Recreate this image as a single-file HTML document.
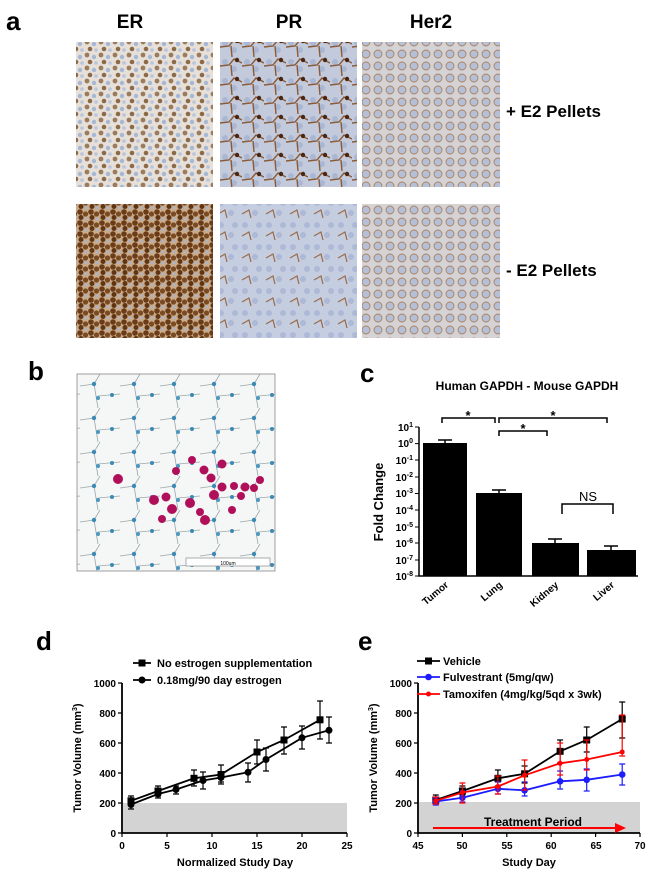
<!DOCTYPE html>
<html><head><meta charset="utf-8"><style>
html,body{margin:0;padding:0;background:#fff;}
svg{display:block;font-family:"Liberation Sans",Arial,sans-serif;}
</style></head><body>
<svg width="650" height="875" viewBox="0 0 650 875" xmlns="http://www.w3.org/2000/svg">
<defs>
<pattern id="er1" width="14" height="13" patternUnits="userSpaceOnUse">
<rect width="14" height="13" fill="#e6e0d8"/>
<circle cx="3" cy="3" r="2.4" fill="#9a7b5e"/><circle cx="10" cy="5" r="2.2" fill="#a5b8d6"/>
<circle cx="6" cy="10" r="2.3" fill="#8c6a48"/><circle cx="12" cy="11" r="1.8" fill="#b8c5dc"/>
</pattern>
<pattern id="er2" width="11" height="11" patternUnits="userSpaceOnUse">
<rect width="11" height="11" fill="#c9ab8a"/>
<circle cx="3" cy="3" r="2.8" fill="#6b3c17"/><circle cx="8.5" cy="5" r="2.6" fill="#7a4a22"/>
<circle cx="4" cy="8.5" r="2.5" fill="#5f3514"/><circle cx="9" cy="10" r="1.5" fill="#a9b4cf"/>
</pattern>
<pattern id="pr1" width="22" height="19" patternUnits="userSpaceOnUse">
<rect width="22" height="19" fill="#c3cadb"/>
<circle cx="5" cy="5" r="3" fill="#aab7d3"/><circle cx="14" cy="12" r="3" fill="#aab7d3"/>
<path d="M0 9 L9 8 L14 2 L22 6 M11 8 L12 19" stroke="#8b5a36" stroke-width="1.4" fill="none"/>
<circle cx="17" cy="3" r="2.2" fill="#4a2612"/>
</pattern>
<pattern id="pr2" width="24" height="22" patternUnits="userSpaceOnUse">
<rect width="24" height="22" fill="#c5cde0"/>
<circle cx="5" cy="5" r="3" fill="#adb9d6"/><circle cx="15" cy="15" r="3" fill="#adb9d6"/><circle cx="19" cy="5" r="3" fill="#adb9d6"/>
<path d="M2 16 L9 12 L11 20" stroke="#9a6a46" stroke-width="1.2" fill="none"/>
</pattern>
<pattern id="her" width="12" height="12" patternUnits="userSpaceOnUse">
<rect width="12" height="12" fill="#d6d3d6"/>
<circle cx="6" cy="6" r="4" fill="#b5bfd8" stroke="#a9825e" stroke-width="0.9"/>
</pattern>
<pattern id="lung" width="40" height="34" patternUnits="userSpaceOnUse">
<rect width="40" height="34" fill="#f5f6f6"/>
<path d="M0 12 L14 10 L20 0 M14 10 L18 34 M18 22 L40 20" stroke="#9aa8ae" stroke-width="0.8" fill="none"/>
<circle cx="14" cy="10" r="2.2" fill="#3c8ab4"/><circle cx="18" cy="24" r="2" fill="#4b96c0"/><circle cx="32" cy="21" r="2" fill="#3c8ab4"/>
</pattern>
</defs>

<!-- Panel a -->
<text x="6" y="30" font-size="26" font-weight="bold">a</text>
<text x="130" y="28" font-size="19" font-weight="bold" text-anchor="middle">ER</text>
<text x="289" y="28" font-size="19" font-weight="bold" text-anchor="middle">PR</text>
<text x="431" y="28" font-size="19" font-weight="bold" text-anchor="middle">Her2</text>
<rect x="76" y="42" width="137" height="145" fill="url(#er1)"/>
<rect x="220" y="42" width="137" height="145" fill="url(#pr1)"/>
<rect x="362" y="42" width="138" height="145" fill="url(#her)"/>
<rect x="76" y="204" width="137" height="134" fill="url(#er2)"/>
<rect x="220" y="204" width="137" height="134" fill="url(#pr2)"/>
<rect x="362" y="204" width="138" height="134" fill="url(#her)"/>
<text x="506" y="117" font-size="17" font-weight="bold">+ E2 Pellets</text>
<text x="506" y="276" font-size="17" font-weight="bold">- E2 Pellets</text>

<!-- Panel b -->
<text x="28" y="380" font-size="26" font-weight="bold">b</text>
<rect x="77" y="374" width="198" height="197" fill="url(#lung)" stroke="#888" stroke-width="0.8"/>
<g fill="#b0105a">
<circle cx="118" cy="479" r="5"/><circle cx="154" cy="500" r="5"/><circle cx="166" cy="497" r="4.5"/><circle cx="172" cy="509" r="5"/>
<circle cx="162" cy="519" r="4"/><circle cx="190" cy="503" r="5"/><circle cx="200" cy="512" r="4"/><circle cx="205" cy="520" r="5"/>
<circle cx="176" cy="471" r="4"/><circle cx="192" cy="460" r="4"/><circle cx="204" cy="470" r="4.5"/><circle cx="211" cy="478" r="4.5"/>
<circle cx="222" cy="464" r="4.5"/><circle cx="222" cy="487" r="4.5"/><circle cx="214" cy="495" r="5"/><circle cx="234" cy="486" r="4"/>
<circle cx="245" cy="487" r="4.5"/><circle cx="254" cy="488" r="4"/><circle cx="260" cy="480" r="4"/><circle cx="241" cy="496" r="4"/><circle cx="232" cy="510" r="4"/>
</g>
<rect x="186" y="558" width="84" height="8" fill="#fff" stroke="#777" stroke-width="0.6"/>
<text x="228" y="565" font-size="5" text-anchor="middle">100um</text>

<!-- Panel c -->
<text x="360" y="382" font-size="26" font-weight="bold">c</text>
<text x="527" y="390" font-size="12" font-weight="bold" text-anchor="middle">Human GAPDH - Mouse GAPDH</text>
<g stroke="#000" stroke-width="1.5" fill="none">
<path d="M419 427 V576 H638"/>
<path d="M442 423 V418 H495 V423"/><path d="M499 423 V418 H607 V423"/><path d="M499 436 V431 H547 V436"/>
<path d="M562 514 V504 H613 V514"/>
</g>
<g stroke="#000" stroke-width="1">
<path d="M415 427H419M415 443.6H419M415 460H419M415 477H419M415 493.5H419M415 510H419M415 527H419M415 543H419M415 560H419M415 576H419"/>
</g>
<g font-size="10" font-weight="bold" text-anchor="end">
<text x="413" y="431">10<tspan font-size="7" dy="-4">1</tspan></text>
<text x="413" y="447">10<tspan font-size="7" dy="-4">0</tspan></text>
<text x="413" y="464">10<tspan font-size="7" dy="-4">-1</tspan></text>
<text x="413" y="481">10<tspan font-size="7" dy="-4">-2</tspan></text>
<text x="413" y="497">10<tspan font-size="7" dy="-4">-3</tspan></text>
<text x="413" y="514">10<tspan font-size="7" dy="-4">-4</tspan></text>
<text x="413" y="531">10<tspan font-size="7" dy="-4">-5</tspan></text>
<text x="413" y="547">10<tspan font-size="7" dy="-4">-6</tspan></text>
<text x="413" y="564">10<tspan font-size="7" dy="-4">-7</tspan></text>
<text x="413" y="580">10<tspan font-size="7" dy="-4">-8</tspan></text>
</g>
<text transform="translate(383 502) rotate(-90)" font-size="13" font-weight="bold" text-anchor="middle">Fold Change</text>
<g fill="#000">
<rect x="423" y="443" width="44" height="133"/><rect x="476" y="493" width="46" height="83"/>
<rect x="532" y="543" width="47" height="33"/><rect x="587" y="550" width="49" height="26"/>
</g>
<g stroke="#000" stroke-width="1.5">
<path d="M445 443V440M438 440H452M499 493V490M492 490H506M555 543V539M548 539H562M611 550V546M604 546H618"/>
</g>
<text x="502" y="420" font-size="13" font-weight="bold" text-anchor="middle" transform="translate(-34 0)">*</text>
<text x="553" y="420" font-size="13" font-weight="bold" text-anchor="middle">*</text>
<text x="523" y="433" font-size="13" font-weight="bold" text-anchor="middle">*</text>
<text x="588" y="501" font-size="13" text-anchor="middle">NS</text>
<g font-size="10" font-weight="bold" text-anchor="end">
<text transform="translate(449 586) rotate(-40)">Tumor</text>
<text transform="translate(503 586) rotate(-40)">Lung</text>
<text transform="translate(559 586) rotate(-40)">Kidney</text>
<text transform="translate(615 586) rotate(-40)">Liver</text>
</g>

<!-- Panel d -->
<text x="36" y="650" font-size="26" font-weight="bold">d</text>
<rect x="123" y="803" width="224" height="30" fill="#d3d3d3"/>
<g stroke="#000" stroke-width="1.8" fill="none">
<path d="M122 683V833H347"/>
</g>
<g stroke="#000" stroke-width="1.2">
<path d="M118 683H122M118 713H122M118 743H122M118 773H122M118 803H122M118 833H122"/>
<path d="M122 833v4M167 833v4M212 833v4M257 833v4M302 833v4M347 833v4"/>
</g>
<g font-size="10" font-weight="bold" text-anchor="end">
<text x="116" y="687">1000</text><text x="116" y="717">800</text><text x="116" y="747">600</text>
<text x="116" y="777">400</text><text x="116" y="807">200</text><text x="116" y="837">0</text>
</g>
<g font-size="10" font-weight="bold" text-anchor="middle">
<text x="122" y="849">0</text><text x="167" y="849">5</text><text x="212" y="849">10</text><text x="257" y="849">15</text><text x="302" y="849">20</text><text x="347" y="849">25</text>
</g>
<text x="235" y="866" font-size="11" font-weight="bold" text-anchor="middle">Normalized Study Day</text>
<text transform="translate(81 758) rotate(-90)" font-size="11" font-weight="bold" text-anchor="middle">Tumor Volume (mm<tspan font-size="7" dy="-4">3</tspan><tspan dy="4">)</tspan></text>
<g stroke="#000" stroke-width="1.8" fill="none">
<polyline points="131,800.8 158,791 194,778.3 221,774.5 257,752 284,740 320,719.8"/>
<polyline points="131,804.5 158,794 176,789.5 203,780.5 221,777.5 248,772.3 266,759.5 302,737.8 329,730.3"/>
</g>
<g stroke="#000" stroke-width="1.2">
<path d="M131 796v9M128 796h6M128 805h6 M158 786v10M155 786h6M155 796h6 M194 770v16M191 770h6M191 786h6 M221 765v19M218 765h6M218 784h6 M257 740v24M254 740h6M254 764h6 M284 727v27M281 727h6M281 754h6 M320 701v38M317 701h6M317 739h6"/>
<path d="M131 800v9M128 800h6M128 809h6 M158 790v8M155 790h6M155 798h6 M176 786v8M173 786h6M173 794h6 M203 772v17M200 772h6M200 789h6 M221 773v9M218 773h6M218 782h6 M248 763v19M245 763h6M245 782h6 M266 748v23M263 748h6M263 771h6 M302 726v23M299 726h6M299 749h6 M329 717v26M326 717h6M326 743h6"/>
</g>
<g fill="#000">
<rect x="127.5" y="797.3" width="7" height="7"/><rect x="154.5" y="787.5" width="7" height="7"/><rect x="190.5" y="774.8" width="7" height="7"/>
<rect x="217.5" y="771" width="7" height="7"/><rect x="253.5" y="748.5" width="7" height="7"/><rect x="280.5" y="736.5" width="7" height="7"/><rect x="316.5" y="716.3" width="7" height="7"/>
<circle cx="131" cy="804.5" r="3.5"/><circle cx="158" cy="794" r="3.5"/><circle cx="176" cy="789.5" r="3.5"/><circle cx="203" cy="780.5" r="3.5"/>
<circle cx="221" cy="777.5" r="3.5"/><circle cx="248" cy="772.3" r="3.5"/><circle cx="266" cy="759.5" r="3.5"/><circle cx="302" cy="737.8" r="3.5"/><circle cx="329" cy="730.3" r="3.5"/>
</g>
<g stroke="#000" stroke-width="1.8"><path d="M133 663H151M133 680H151"/></g>
<rect x="138.5" y="659.5" width="7" height="7"/><circle cx="142" cy="680" r="3.5"/>
<text x="157" y="667" font-size="11" font-weight="bold">No estrogen supplementation</text>
<text x="157" y="684" font-size="11" font-weight="bold">0.18mg/90 day estrogen</text>

<!-- Panel e -->
<text x="358" y="650" font-size="26" font-weight="bold">e</text>
<rect x="419" y="802" width="221" height="31" fill="#d3d3d3"/>
<g stroke="#000" stroke-width="1.8" fill="none"><path d="M418 683V833H640"/></g>
<g stroke="#000" stroke-width="1.2">
<path d="M414 683H418M414 713H418M414 743H418M414 773H418M414 803H418M414 833H418"/>
<path d="M418 833v4M462.4 833v4M506.8 833v4M551.2 833v4M595.6 833v4M640 833v4"/>
</g>
<g font-size="10" font-weight="bold" text-anchor="end">
<text x="412" y="687">1000</text><text x="412" y="717">800</text><text x="412" y="747">600</text>
<text x="412" y="777">400</text><text x="412" y="807">200</text><text x="412" y="837">0</text>
</g>
<g font-size="10" font-weight="bold" text-anchor="middle">
<text x="418" y="849">45</text><text x="462" y="849">50</text><text x="507" y="849">55</text><text x="551" y="849">60</text><text x="596" y="849">65</text><text x="640" y="849">70</text>
</g>
<text x="529" y="866" font-size="11" font-weight="bold" text-anchor="middle">Study Day</text>
<text transform="translate(377 758) rotate(-90)" font-size="11" font-weight="bold" text-anchor="middle">Tumor Volume (mm<tspan font-size="7" dy="-4">3</tspan><tspan dy="4">)</tspan></text>
<text x="533" y="826" font-size="12" font-weight="bold" text-anchor="middle">Treatment Period</text>
<path d="M433 828H617" stroke="#f00" stroke-width="2"/><path d="M615 823L626 828L615 833Z" fill="#f00"/>
<!-- vehicle -->
<g stroke="#000" stroke-width="1.2">
<path d="M435.8 795v9M432.8 795h6M432.8 804h6 M462.4 786v9M459.4 786h6M459.4 795h6 M497.9 770v16M494.9 770h6M494.9 786h6 M524.6 766v17M521.6 766h6M521.6 783h6 M560.1 740v23M557.1 740h6M557.1 763h6 M586.7 727v25M583.7 727h6M583.7 752h6 M622.2 702v36M619.2 702h6M619.2 738h6"/>
</g>
<polyline points="435.8,800 462.4,791 497.9,778.3 524.6,773.8 560.1,751.3 586.7,740 622.2,719" stroke="#000" stroke-width="1.8" fill="none"/>
<g fill="#000"><rect x="432.3" y="796.5" width="7" height="7"/><rect x="458.9" y="787.5" width="7" height="7"/><rect x="494.4" y="774.8" width="7" height="7"/><rect x="521.1" y="770.3" width="7" height="7"/><rect x="556.6" y="747.8" width="7" height="7"/><rect x="583.2" y="736.5" width="7" height="7"/><rect x="618.7" y="715.5" width="7" height="7"/></g>
<!-- fulvestrant -->
<g stroke="#1c1cff" stroke-width="1.2">
<path d="M435.8 798v7M432.8 798h6M432.8 805h6 M462.4 791v11M459.4 791h6M459.4 802h6 M497.9 782v12M494.9 782h6M494.9 794h6 M524.6 782v14M521.6 782h6M521.6 796h6 M560.1 771h0v18M557.1 771h6M557.1 789h6 M586.7 769v22M583.7 769h6M583.7 791h6 M622.2 764v21M619.2 764h6M619.2 785h6"/>
</g>
<polyline points="435.8,801.5 462.4,797.8 497.9,788.8 524.6,790.3 560.1,781.3 586.7,779.8 622.2,774.5" stroke="#1c1cff" stroke-width="1.8" fill="none"/>
<g fill="#1c1cff"><circle cx="435.8" cy="801.5" r="3.3"/><circle cx="462.4" cy="797.8" r="3.3"/><circle cx="497.9" cy="788.8" r="3.3"/><circle cx="524.6" cy="790.3" r="3.3"/><circle cx="560.1" cy="781.3" r="3.3"/><circle cx="586.7" cy="779.8" r="3.3"/><circle cx="622.2" cy="774.5" r="3.3"/></g>
<!-- tamoxifen -->
<g stroke="#f00" stroke-width="1.2">
<path d="M435.8 797v7M432.8 797h6M432.8 804h6 M462.4 783v20M459.4 783h6M459.4 803h6 M497.9 776v18M494.9 776h6M494.9 794h6 M524.6 760v30M521.6 760h6M521.6 790h6 M560.1 743v32M557.1 743h6M557.1 775h6 M586.7 740v30M583.7 740h6M583.7 770h6 M622.2 715v41M619.2 715h6M619.2 756h6"/>
</g>
<polyline points="435.8,800.8 462.4,792.5 497.9,786.5 524.6,775.3 560.1,763.3 586.7,759.5 622.2,752" stroke="#f00" stroke-width="1.8" fill="none"/>
<g fill="#f00"><circle cx="435.8" cy="800.8" r="2.5"/><circle cx="462.4" cy="792.5" r="2.5"/><circle cx="497.9" cy="786.5" r="2.5"/><circle cx="524.6" cy="775.3" r="2.5"/><circle cx="560.1" cy="763.3" r="2.5"/><circle cx="586.7" cy="759.5" r="2.5"/><circle cx="622.2" cy="752" r="2.5"/></g>
<!-- legend e -->
<path d="M417 661H440" stroke="#000" stroke-width="1.8"/><rect x="425" y="657.5" width="7" height="7"/>
<path d="M417 677H440" stroke="#1c1cff" stroke-width="1.8"/><circle cx="428.5" cy="677" r="3.3" fill="#1c1cff"/>
<path d="M417 694H440" stroke="#f00" stroke-width="1.8"/><circle cx="428.5" cy="694" r="2.5" fill="#f00"/>
<text x="443" y="665" font-size="11" font-weight="bold">Vehicle</text>
<text x="443" y="681" font-size="11" font-weight="bold">Fulvestrant (5mg/qw)</text>
<text x="443" y="698" font-size="11" font-weight="bold">Tamoxifen (4mg/kg/5qd x 3wk)</text>
</svg>
</body></html>
